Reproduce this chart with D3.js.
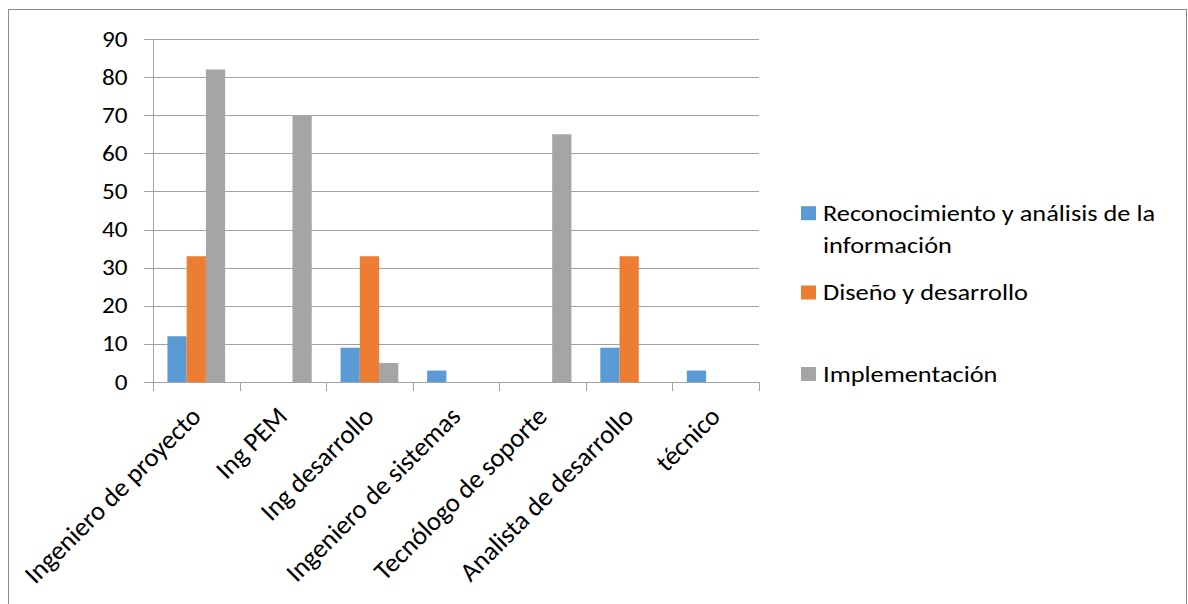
<!DOCTYPE html>
<html>
<head>
<meta charset="utf-8">
<script src="https://cdn.jsdelivr.net/npm/d3@7"></script>
<style>
  html, body { margin: 0; padding: 0; background: #fff; }
  svg { display: block; }
  text { font-family: Carlito, Calibri, "Open Sans", sans-serif; fill: #000; }
</style>
</head>
<body>
<svg id="chart" width="1188" height="604"></svg>
<script>
const categories = ["Ingeniero de proyecto", "Ing PEM", "Ing desarrollo", "Ingeniero de sistemas", "Tecnólogo de soporte", "Analista de desarrollo", "técnico"];
const seriesNames = ["Reconocimiento y análisis de la información", "Diseño y desarrollo", "Implementación"];
const legendLines = [["Reconocimiento y análisis de la", "información"], ["Diseño y desarrollo"], ["Implementación"]];
const reconocimiento = [12, 0, 9, 3, 0, 9, 3];
const disenio = [33, 0, 33, 0, 0, 33, 0];
const implementacion = [82, 70, 5, 0, 65, 0, 0];
const colors = ["#5B9BD5", "#ED7D31", "#A5A5A5"];
const yTicks = [0, 10, 20, 30, 40, 50, 60, 70, 80, 90];

const seriesValues = [reconocimiento, disenio, implementacion];
const data = categories.map((c, i) => ({cat: c, vals: seriesValues.map(s => s[i])}));

const svg = d3.select("#chart");
const x0 = 153, x1 = 759, yTop = 39, yBot = 382;
const stretch = 1.146;
const axisColor = "#a2a2a2";

// outer border
svg.append("rect").attr("x", 8.5).attr("y", 9.5).attr("width", 1178).attr("height", 700)
  .attr("fill", "none").attr("stroke", "#8a8a8a").attr("stroke-width", 1);

const x = d3.scaleBand().domain(categories).range([x0, x1]).paddingInner(1/3).paddingOuter(1/6);
const xs = d3.scaleBand().domain(d3.range(seriesNames.length)).range([0, x.bandwidth()]).padding(0);
const y = d3.scaleLinear().domain([0, 90]).range([yBot, yTop]);

// gridlines (with left tick stubs)
svg.append("g").selectAll("line").data(yTicks).join("line")
  .attr("x1", x0 - 9).attr("x2", x1)
  .attr("y1", d => Math.round(y(d)) + 0.5).attr("y2", d => Math.round(y(d)) + 0.5)
  .attr("stroke", axisColor).attr("stroke-width", 1);

// y axis labels
const yAxis = d3.axisLeft(y).tickValues(yTicks).tickSize(0).tickPadding(0);
const gy = svg.append("g").attr("transform", `translate(${x0 - 25.5},0)`).call(yAxis);
gy.select(".domain").remove();
gy.selectAll("text")
  .style("font-size", "22px").attr("font-family", null).attr("fill", "#000")
  .attr("x", 0).attr("dy", "0.32em")
  .attr("transform", `scale(${stretch},1)`);

// bars
const groups = svg.append("g").selectAll("g").data(data).join("g")
  .attr("transform", d => `translate(${x(d.cat)},0)`);
groups.selectAll("rect").data(d => d.vals.map((v, i) => ({v, i}))).join("rect")
  .attr("x", d => xs(d.i)).attr("width", xs.bandwidth())
  .attr("y", d => y(d.v)).attr("height", d => y(0) - y(d.v))
  .attr("fill", d => colors[d.i]);

// y axis line
svg.append("line").attr("x1", x0 + 0.5).attr("x2", x0 + 0.5).attr("y1", yTop).attr("y2", yBot + 0.5)
  .attr("stroke", axisColor);

// x axis line + boundary ticks
const step = x.step();
svg.append("line").attr("x1", x0).attr("x2", x1).attr("y1", yBot + 0.5).attr("y2", yBot + 0.5)
  .attr("stroke", axisColor);
svg.append("g").selectAll("line").data(d3.range(categories.length + 1)).join("line")
  .attr("x1", i => Math.round(x0 + i * step) + 0.5).attr("x2", i => Math.round(x0 + i * step) + 0.5)
  .attr("y1", yBot).attr("y2", yBot + 9)
  .attr("stroke", axisColor);

// x labels rotated
svg.append("g").selectAll("text").data(categories).join("text")
  .attr("transform", d => `translate(${x(d) + x.bandwidth() / 2 + 6},${yBot + 36}) rotate(-45)`)
  .attr("text-anchor", "end")
  .style("font-size", "26.5px")
  .text(d => d);

// legend
const legY = [220.7, 300, 381.5];
const leg = svg.append("g");
seriesNames.forEach((s, i) => {
  leg.append("rect").attr("x", 801).attr("y", legY[i] - 14.5).attr("width", 15).attr("height", 14).attr("fill", colors[i]);
  const t = leg.append("text")
    .attr("transform", `translate(823,${legY[i]}) scale(${stretch},1)`)
    .style("font-size", "23px");
  legendLines[i].forEach((ln, j) => {
    t.append("tspan").attr("x", 0).attr("dy", j === 0 ? 0 : 32.6).text(ln);
  });
});
</script>
</body>
</html>
